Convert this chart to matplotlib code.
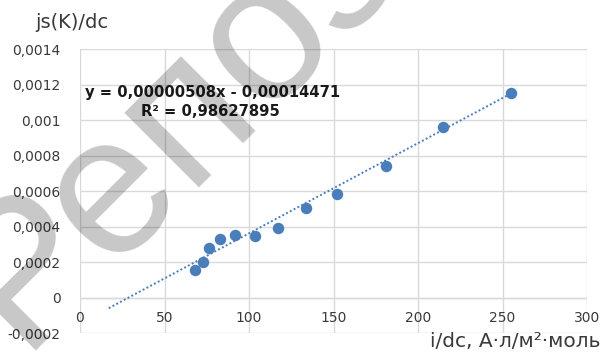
import matplotlib
matplotlib.use("Agg")
import matplotlib.pyplot as plt
import numpy as np

# measured points
x_vals = [68, 72.5, 76.5, 83, 92, 103.5, 117, 134, 152, 181, 214.5, 255]
y_vals = [0.000157, 0.000203, 0.000281, 0.000333, 0.000355, 0.000347,
          0.000393, 0.000507, 0.000587, 0.000742, 0.000960, 0.001156]

# linear trendline coefficients (as printed on the chart)
slope = 0.00000508
intercept = -0.00014471
r_squared = 0.98627895
trend_start = 17

x_ticks = [0, 50, 100, 150, 200, 250, 300]
y_ticks = [-0.0002, 0, 0.0002, 0.0004, 0.0006, 0.0008, 0.001, 0.0012, 0.0014]
y_tick_labels = ["-0,0002", "0", "0,0002", "0,0004", "0,0006", "0,0008",
                 "0,001", "0,0012", "0,0014"]

W, H = 602, 352
fig = plt.figure(figsize=(W / 100, H / 100), dpi=100)
ax = fig.add_axes([80 / W, (H - 333.3) / H, (587 - 80) / W, (333.3 - 49.3) / H])

grid_c = "#d9d9d9"
text_c = "#3a3a3a"
blue = "#4a7ebb"

ax.set_xlim(0, 300)
ax.set_ylim(-0.0002, 0.0014)
ax.set_yticks(y_ticks)
ax.set_yticklabels(y_tick_labels)
ax.set_xticks(x_ticks)
ax.set_xticklabels([])
ax.grid(True, color=grid_c, linewidth=1.0)
ax.axhline(0, color=grid_c, linewidth=1.0, zorder=1)
for s in ax.spines.values():
    s.set_visible(False)
ax.tick_params(axis="both", length=0, labelsize=10, labelcolor=text_c, pad=14)
ax.set_axisbelow(True)

# x tick labels sit just below the zero line
for xv in x_ticks:
    ax.text(xv, -0.000112, str(xv), ha="center", va="center",
            fontsize=10, color=text_c)

# trendline from the printed equation
xt = np.array([trend_start, max(x_vals)])
ax.plot(xt, slope * xt + intercept, linestyle=(0, (1, 1.2)), color=blue,
        linewidth=1.4, zorder=2)

ax.scatter(x_vals, y_vals, s=68, color=blue, zorder=3, linewidths=0)

eq_txt = "y = {:.8f}x - {:.8f}".format(slope, -intercept).replace(".", ",")
r2_txt = "R² = {:.8f}".format(r_squared).replace(".", ",")
fig.text(85 / W, 1 - 92.5 / H, eq_txt, ha="left",
         va="center", fontsize=10.6, fontweight="bold", color="#1a1a1a")
fig.text(210 / W, 1 - 111.5 / H, r2_txt, ha="center",
         va="center", fontsize=10.6, fontweight="bold", color="#1a1a1a")

fig.text(35 / W, 1 - 28 / H, "js(K)/dc", ha="left", va="baseline",
         fontsize=14, color=text_c)
fig.text(601 / W, 1 - 347 / H, "i/dc, А·л/м²·моль", ha="right",
         va="baseline", fontsize=14.5, color=text_c)

# watermark
fig.text(20 / W, 1 - 350 / H, "Репозиторий", rotation=45,
         rotation_mode="anchor", ha="left", va="baseline",
         fontsize=143, family="Liberation Sans", color="black", alpha=0.22,
         zorder=10)

fig.savefig("out.png", dpi=100)
